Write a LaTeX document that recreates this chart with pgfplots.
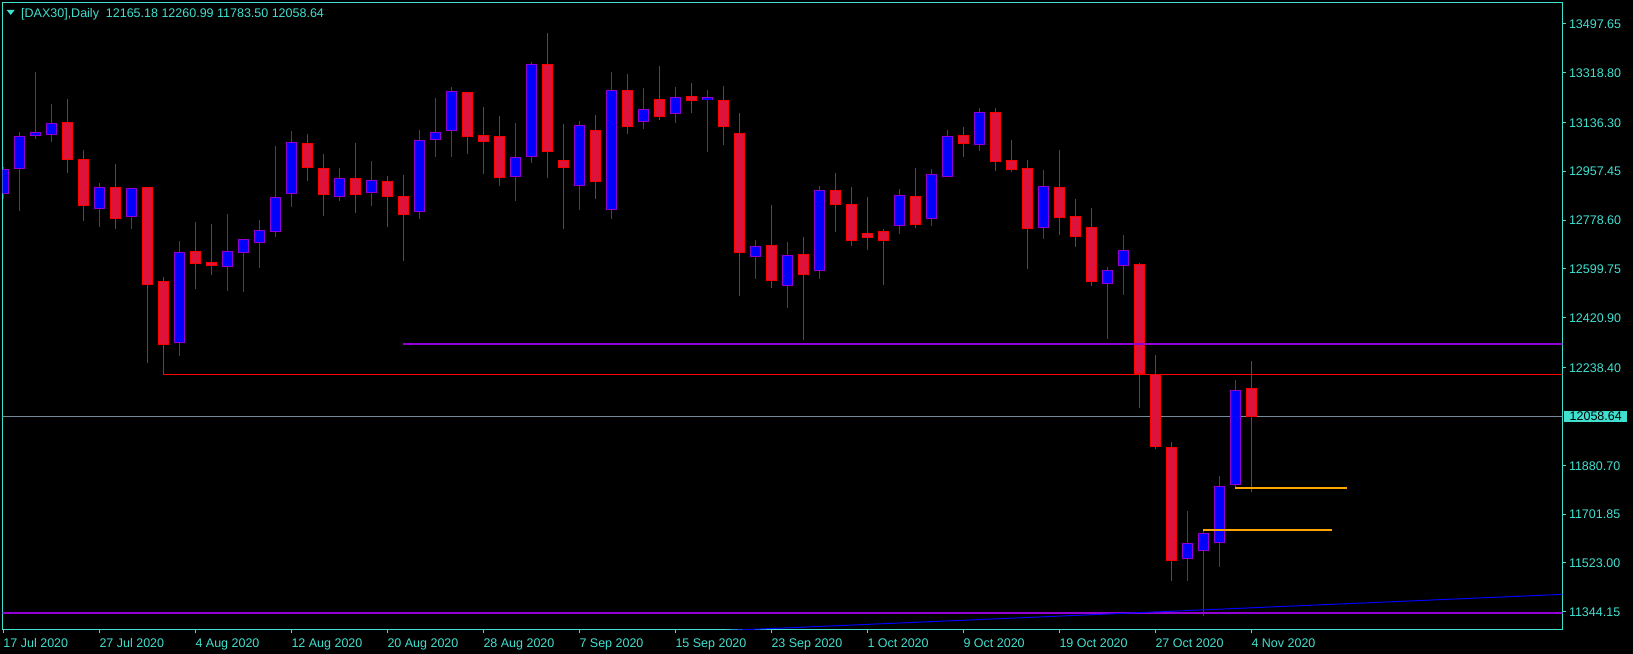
\documentclass[border=0pt]{standalone}
\usepackage{pgfplots}
\pgfplotsset{compat=1.18}
\usepackage{pgfplotstable}
\usepackage{fontspec}
\setmainfont{Liberation Sans}
\definecolor{mtcyan}{HTML}{40E0D0}
\definecolor{bullfill}{HTML}{0000FF}
\definecolor{bullline}{HTML}{9400D3}
\definecolor{bearfill}{HTML}{DC143C}
\definecolor{bearline}{HTML}{FF0000}
\definecolor{lvlpurple}{HTML}{9400D3}
\definecolor{pricegray}{HTML}{778899}
\definecolor{trendblue}{HTML}{0000FF}
\definecolor{lvlorange}{HTML}{FFA500}

\pgfplotstableread{
i O H L C
0 12872.7 12974.0 12855.6 12964.3
1 12964.3 13099.8 12810.5 13085.1
2 13085.1 13320.8 13074.2 13099.8
3 13091.3 13203.6 13065.6 13132.8
6 12817.8 12914.3 12754.3 12898.4
8 12790.9 12894.7 12745.8 12894.7
11 12329.5 12701.8 12281.9 12660.3
14 12607.8 12800.7 12519.9 12663.9
15 12656.6 12710.0 12516.3 12707.9
16 12693.3 12778.7 12604.1 12740.9
17 12733.6 13049.8 12717.7 12861.8
18 12872.7 13104.7 12827.6 13063.2
21 12864.2 12969.2 12849.6 12931.3
23 12876.4 12993.6 12831.2 12924.0
26 12806.8 13108.3 12783.6 13070.5
27 13070.5 13225.5 13010.7 13099.8
28 13103.5 13264.6 13010.7 13250.0
32 12937.4 13134.0 12849.6 13008.2
33 13008.2 13357.4 12988.7 13348.8
36 12902.0 13141.3 12816.6 13125.4
38 12814.1 13320.8 12783.6 13253.6
40 13136.4 13262.1 13113.2 13184.0
42 13165.7 13264.6 13135.2 13228.0
44 13217.0 13254.8 13029.0 13228.0
47 12642.0 12705.5 12563.9 12682.3
49 12538.2 12698.2 12457.7 12649.3
51 12590.7 12903.2 12563.9 12887.4
56 12758.0 12892.3 12728.7 12869.1
58 12783.6 12965.5 12758.0 12946.0
59 12937.4 13108.3 12937.4 13085.1
61 13054.6 13188.9 13032.6 13173.0
65 12750.7 12961.9 12710.4 12902.0
69 12545.6 12606.6 12342.9 12594.4
70 12611.5 12723.8 12505.3 12667.6
74 11538.4 11713.0 11457.8 11594.5
75 11567.7 11644.0 11329.7 11631.2
76 11594.5 11841.2 11509.1 11803.3
77 11807.0 12192.8 11798.4 12154.9
}\bull

\pgfplotstableread{
i O H L C
4 13136.4 13221.9 12952.1 12999.7
5 13000.9 13035.1 12776.3 12831.2
7 12898.4 12983.8 12745.8 12783.6
9 12898.4 12898.4 12256.2 12541.9
10 12554.1 12568.7 12213.5 12319.7
12 12663.9 12771.4 12527.2 12618.8
13 12623.7 12764.1 12577.3 12611.5
19 13059.5 13093.7 12922.8 12970.4
20 12967.9 13020.4 12794.6 12871.5
22 12931.3 13060.7 12805.6 12871.5
24 12920.3 12939.9 12754.3 12864.2
25 12865.4 12943.5 12629.8 12795.8
29 13246.3 13246.3 13021.7 13083.9
30 13088.8 13192.6 12948.5 13065.6
31 13085.1 13159.6 12904.5 12933.8
34 13348.8 13463.6 12933.8 13029.0
35 12997.3 13130.3 12747.0 12970.4
37 13107.1 13163.3 12856.8 12919.1
39 13253.6 13313.4 13094.9 13118.1
41 13220.6 13342.7 13146.2 13154.7
43 13231.6 13279.3 13171.8 13215.8
45 13217.0 13268.3 13054.6 13120.5
46 13096.1 13169.4 12501.6 12659.1
48 12686.0 12833.7 12530.9 12556.5
50 12653.0 12716.4 12340.5 12578.5
52 12887.4 12950.9 12736.0 12834.9
53 12836.1 12899.6 12684.7 12703.0
54 12729.9 12863.0 12670.1 12714.0
55 12737.2 12744.5 12541.9 12703.0
57 12865.4 12969.2 12750.7 12761.6
60 13088.8 13119.3 13010.7 13058.3
62 13173.0 13188.9 12958.2 12992.4
63 12997.3 13071.7 12954.5 12963.1
64 12967.9 12998.5 12600.5 12747.0
66 12898.4 13035.1 12725.0 12787.3
67 12792.2 12855.7 12681.1 12717.7
68 12751.9 12822.7 12538.2 12552.9
71 12616.3 12621.2 12091.4 12214.7
72 12213.5 12285.5 11941.3 11947.4
73 11947.4 11964.5 11457.8 11531.1
78 12165.18 12260.99 11783.50 12058.64
}\bear

\newcommand{\mtfont}{\fontsize{12.5bp}{15bp}\selectfont}
\pgfplotsset{
  errline/.style 2 args={forget plot, draw=none, mark=none,
    error bars/.cd, y dir=both, y explicit, error mark=none,
    error bar style={draw=#1, line width=#2}},
}

\begin{document}
\begin{tikzpicture}
\path[use as bounding box, fill=black] (0,0) rectangle (1633bp,654bp);
\begin{axis}[
  at={(2.7bp,24bp)}, anchor=south west,
  scale only axis, width=1559.6bp, height=627.7bp,
  xmin=-0.0375, xmax=97.4375, ymin=11277.15, ymax=13576.02,
  axis line style={mtcyan, line width=1bp},
  tick style={mtcyan, line width=1bp},
  major tick length=3.5bp, tick align=outside,
  xtick pos=left, ytick pos=right, yticklabel pos=right,
  ytick={13497.65,13318.80,13136.30,12957.45,12778.60,12599.75,12420.90,12238.40,11880.70,11701.85,11523.00,11344.15},
  yticklabels={13497.65,13318.80,13136.30,12957.45,12778.60,12599.75,12420.90,12238.40,11880.70,11701.85,11523.00,11344.15},
  xtick={0,6,12,18,24,30,36,42,48,54,60,66,72,78},
  xticklabels={17 Jul 2020,27 Jul 2020,4 Aug 2020,12 Aug 2020,20 Aug 2020,28 Aug 2020,7 Sep 2020,15 Sep 2020,23 Sep 2020,1 Oct 2020,9 Oct 2020,19 Oct 2020,27 Oct 2020,4 Nov 2020},
  ticklabel style={font=\mtfont, text=mtcyan, inner sep=0pt},
  yticklabel style={anchor=west, xshift=3bp, yshift=-0.5bp},
  xticklabel style={anchor=north west, yshift=-5bp},
]
% price line (behind candles)
\addplot[pricegray, line width=1bp, forget plot] coordinates {(-1,12058.64) (100,12058.64)};
% wicks
\addplot[errline={bullline}{1bp}]
  table[x=i, y expr={(\thisrow{H}+\thisrow{L})/2}, y error expr={(\thisrow{H}-\thisrow{L})/2}] {\bull};
\addplot[errline={bearline}{1bp}]
  table[x=i, y expr={(\thisrow{H}+\thisrow{L})/2}, y error expr={(\thisrow{H}-\thisrow{L})/2}] {\bear};
% body outlines
\addplot[errline={bullline}{10.7bp}]
  table[x=i, y expr={(\thisrow{O}+\thisrow{C})/2}, y error expr={abs(\thisrow{C}-\thisrow{O})/2}] {\bull};
\addplot[errline={bearline}{10.7bp}]
  table[x=i, y expr={(\thisrow{O}+\thisrow{C})/2}, y error expr={abs(\thisrow{C}-\thisrow{O})/2}] {\bear};
% body fills
\addplot[errline={bullfill}{8.7bp}]
  table[x=i, y expr={(\thisrow{O}+\thisrow{C})/2}, y error expr={max(abs(\thisrow{C}-\thisrow{O})/2-3.6624,0)}] {\bull};
\addplot[errline={bearfill}{8.7bp}]
  table[x=i, y expr={(\thisrow{O}+\thisrow{C})/2}, y error expr={max(abs(\thisrow{C}-\thisrow{O})/2-3.6624,0)}] {\bear};
% levels
\addplot[lvlpurple, line width=2bp, forget plot] coordinates {(25,12324.6) (100,12324.6)};
\addplot[bearline, line width=1bp, forget plot] coordinates {(10,12213.5) (100,12213.5)};
\addplot[lvlpurple, line width=2bp, forget plot] coordinates {(-1,11340.5) (100,11340.5)};
\addplot[trendblue, line width=1bp, forget plot] coordinates {(40,11262.3) (100,11414.1)};
\addplot[lvlorange, line width=2bp, forget plot] coordinates {(77,11798.4) (84,11798.4)};
\addplot[lvlorange, line width=2bp, forget plot] coordinates {(75,11644.5) (83.04,11644.5)};
\end{axis}
% title
\fill[mtcyan] (6.7bp,644bp) -- (14.7bp,644bp) -- (10.7bp,639bp) -- cycle;
\node[anchor=base west, inner sep=0pt, text=mtcyan, font=\mtfont] at (21bp,636.7bp)
  {[DAX30],Daily\ \ 12165.18 12260.99 11783.50 12058.64};
% current price label
\node[anchor=west, fill=mtcyan, text=black, font=\mtfont, inner sep=0pt,
  minimum width=63bp, minimum height=11.6bp] at (1564bp,237.6bp) {12058.64};
\end{tikzpicture}
\end{document}
